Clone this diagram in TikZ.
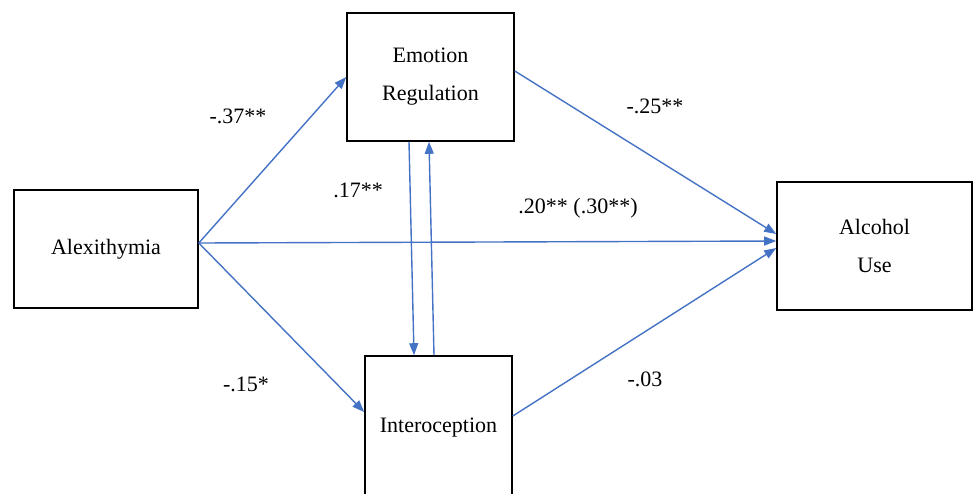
\documentclass[tikz,border=0pt]{standalone}
\usepackage{fontspec}
\setmainfont{Liberation Serif}
\usetikzlibrary{arrows.meta}
\definecolor{linkblue}{RGB}{68,114,196}
\tikzset{
  var/.style={draw, line width=0.8pt, inner sep=0pt, align=center,
    font=\fontsize{11}{19}\selectfont},
  link/.style={linkblue, line width=0.7pt, -{Triangle[length=6pt,width=4.5pt]}},
  coef/.style={font=\fontsize{11}{13}\selectfont, inner sep=0pt}
}
\begin{document}
\begin{tikzpicture}[x=0.5pt, y=-0.5pt]
\useasboundingbox (0,0) rectangle (973,493);
\clip (0,0) rectangle (973,493);
\node[var, minimum width=92pt, minimum height=59pt] (alex) at (106,249) {Alexithymia};
\node[var, minimum width=83.5pt, minimum height=64pt] (emo) at (430.5,77) {Emotion\\Regulation};
\node[var, minimum width=73.5pt, minimum height=72pt] (intero) at (438.5,428) {Interoception};
\node[var, minimum width=97.5pt, minimum height=64pt] (alc) at (874.5,246) {Alcohol\\Use};
\draw[link] ([yshift=3pt]alex.east) -- (emo.west);
\draw[link] ([yshift=3pt]alex.east) -- ([yshift=2.5pt]alc.west);
\draw[link] ([yshift=3pt]alex.east) -- ([yshift=8pt]intero.west);
\draw[link] ([yshift=3pt]emo.east) -- ([yshift=6pt]alc.west);
\draw[link] ([yshift=6pt]intero.east) -- ([yshift=-1pt]alc.west);
\draw[link] ([xshift=-10.75pt]emo.south) -- ([xshift=-12.25pt]intero.north);
\draw[link] ([xshift=-2.25pt]intero.north) -- ([xshift=-0.75pt]emo.south);
\node[coef] (c37) at (238,116) {-.37**};
\node[coef] (c17) at (358,190) {.17**};
\node[coef] (c25) at (655,106) {-.25**};
\node[coef] (c20) at (578,208) {.20** (.30**)};
\node[coef] (c15) at (246,384) {-.15*};
\node[coef] (c03) at (645,379) {-.03};
\end{tikzpicture}
\end{document}
